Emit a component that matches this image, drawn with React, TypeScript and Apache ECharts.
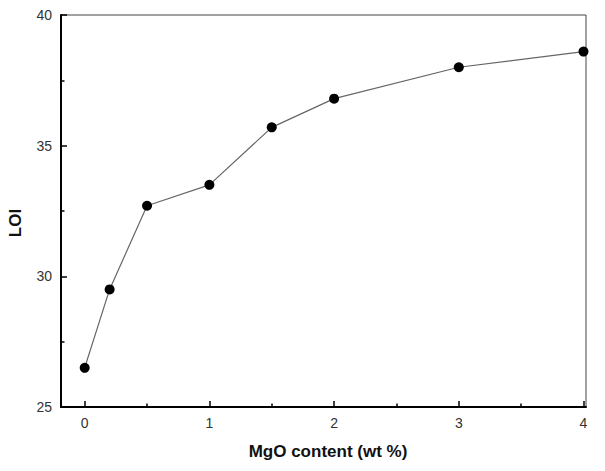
import React, { useEffect, useRef } from "react";
import * as echarts from "echarts";

const mgoContent = [0, 0.2, 0.5, 1, 1.5, 2, 3, 4];
const loiValues = [26.5, 29.5, 32.7, 33.5, 35.7, 36.8, 38.0, 38.6];
const xMajorTicks = [0, 1, 2, 3, 4];
const xMinorTicks = [0.5, 1.5, 2.5, 3.5];
const xTitle = "MgO content (wt %)";
const yTitle = "LOI";

const FONT = "'Liberation Sans', Arial, Helvetica, sans-serif";

export default function App() {
  const ref = useRef<HTMLDivElement>(null);
  useEffect(() => {
    if (!ref.current) return;
    const chart = echarts.init(ref.current, undefined, { renderer: "svg" });
    const xMin = -0.19;
    const xMax = 4.02;
    chart.setOption({
      animation: false,
      backgroundColor: "#ffffff",
      grid: {
        left: 61,
        right: 19,
        top: 15,
        bottom: 64,
        show: true,
        borderColor: "#444",
        borderWidth: 1,
        backgroundColor: "transparent",
      },
      xAxis: [
        {
          type: "value",
          min: xMin,
          max: xMax,
          position: "bottom",
          axisLine: { show: true, onZero: false, lineStyle: { color: "#000", width: 2 } },
          axisTick: {
            show: true,
            inside: true,
            length: 6,
            customValues: xMajorTicks,
            lineStyle: { color: "#000", width: 1.5 },
          },
          axisLabel: {
            show: true,
            customValues: xMajorTicks,
            fontFamily: FONT,
            fontSize: 14,
            color: "#333",
            margin: 9,
          },
          splitLine: { show: false },
        },
        {
          type: "value",
          min: xMin,
          max: xMax,
          position: "bottom",
          axisLine: { show: false, onZero: false },
          axisTick: {
            show: true,
            inside: true,
            length: 3.5,
            customValues: xMinorTicks,
            lineStyle: { color: "#000", width: 1.5 },
          },
          axisLabel: { show: false },
          splitLine: { show: false },
        },
      ],
      yAxis: {
        type: "value",
        min: 25,
        max: 40,
        interval: 5,
        axisLine: { show: true, onZero: false, lineStyle: { color: "#000", width: 2 } },
        axisTick: {
          show: true,
          inside: true,
          length: 6,
          lineStyle: { color: "#000", width: 1.5 },
        },
        minorTick: {
          show: true,
          splitNumber: 2,
          length: 3.5,
          lineStyle: { color: "#000", width: 1.5 },
        },
        axisLabel: {
          fontFamily: FONT,
          fontSize: 14,
          color: "#333",
          margin: 9,
        },
        splitLine: { show: false },
        minorSplitLine: { show: false },
      },
      graphic: [
        {
          type: "text",
          x: 15,
          y: 223,
          rotation: Math.PI / 2,
          style: {
            text: yTitle,
            fontFamily: FONT,
            fontSize: 17,
            fontWeight: "bold",
            fill: "#111",
            align: "center",
            verticalAlign: "middle",
          },
        },
        {
          type: "text",
          x: 328,
          y: 451,
          style: {
            text: xTitle,
            fontFamily: FONT,
            fontSize: 17,
            fontWeight: "bold",
            fill: "#111",
            align: "center",
            verticalAlign: "middle",
          },
        },
      ],
      series: [
        {
          type: "line",
          xAxisIndex: 0,
          data: mgoContent.map((x, i) => [x, loiValues[i]]),
          symbol: "circle",
          symbolSize: 10,
          itemStyle: { color: "#000" },
          lineStyle: { color: "#666", width: 1.2 },
          z: 5,
        },
      ],
    });
    return () => chart.dispose();
  }, []);
  return (
    <div
      ref={ref}
      style={{ position: "fixed", left: 0, top: 0, width: 605, height: 471 }}
    />
  );
}
